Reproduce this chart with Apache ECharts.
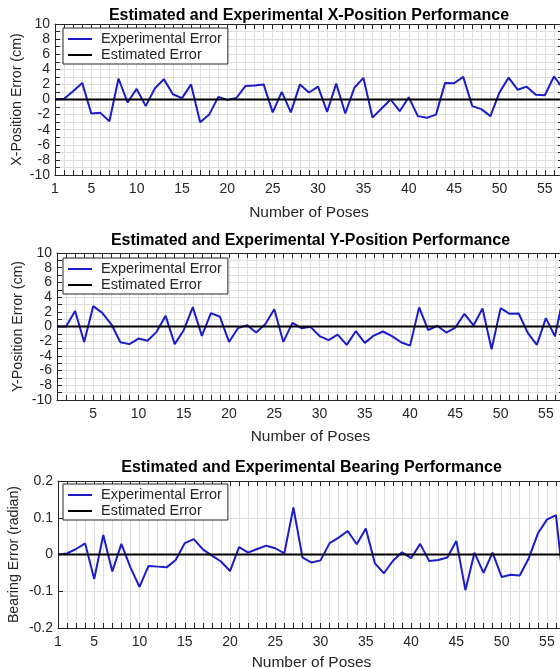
<!DOCTYPE html>
<html><head><meta charset="utf-8">
<script src="https://cdn.jsdelivr.net/npm/echarts@6/dist/echarts.min.js"></script>
<style>html,body{margin:0;padding:0;background:#fff}#c{width:560px;height:668px}</style>
</head><body><div id="c"></div>
<script>
// ---------- data ----------
const poses = [1,2,3,4,5,6,7,8,9,10,11,12,13,14,15,16,17,18,19,20,21,22,23,24,25,26,27,28,29,30,
  31,32,33,34,35,36,37,38,39,40,41,42,43,44,45,46,47,48,49,50,51,52,53,54,55,56,57];
const xPositionError = [0,0.1,1.1,2.2,-1.85,-1.77,-2.87,2.78,-0.4,1.4,-0.88,1.45,2.7,0.7,0.18,2.0,-3.0,-2.0,0.35,-0.05,
  0.2,1.8,1.85,2.0,-1.7,1.0,-1.7,2.0,0.93,1.7,-1.63,2.1,-1.85,1.55,2.87,-2.4,-1.2,0.0,-1.55,0.3,
  -2.2,-2.43,-2.0,2.2,2.15,3.0,-0.88,-1.28,-2.2,0.93,2.9,1.3,1.7,0.62,0.57,3.05,1.5];
const yPositionError = [0,0,2.1,-2.1,2.77,1.86,0.3,-2.14,-2.4,-1.64,-1.95,-0.73,1.45,-2.4,-0.5,2.64,-1.27,1.82,1.32,-2.1,
  -0.2,0.18,-0.82,0.32,2.36,-2.1,0.5,-0.23,-0.05,-1.3,-1.86,-1.1,-2.5,-0.64,-2.23,-1.23,-0.68,-1.32,-2.14,-2.6,
  2.6,-0.5,0.1,-0.82,-0.14,1.73,0.14,2.45,-3.1,2.5,1.73,1.77,-0.86,-2.5,1.14,-1.32,4.5];
const bearingError = [0,0.003,0.015,0.03,-0.067,0.053,-0.046,0.029,-0.035,-0.088,-0.031,-0.033,-0.035,-0.015,0.031,0.042,0.014,-0.003,-0.019,-0.045,
  0.02,0.005,0.015,0.024,0.017,0.003,0.128,-0.008,-0.022,-0.016,0.031,0.046,0.064,0.028,0.071,-0.024,-0.051,-0.017,0.006,-0.01,
  0.029,-0.018,-0.015,-0.008,0.037,-0.097,0.005,-0.05,0.005,-0.061,-0.055,-0.057,-0.01,0.057,0.095,0.107,-0.12];
const estimatedError = [0,0,0,0,0,0,0,0,0,0,0,0,0,0,0,0,0,0,0,0,0,0,0,0,0,0,0,0,0,0,
  0,0,0,0,0,0,0,0,0,0,0,0,0,0,0,0,0,0,0,0,0,0,0,0,0,0,0];

const titles = ['Estimated and Experimental X-Position Performance',
                'Estimated and Experimental Y-Position Performance',
                'Estimated and Experimental Bearing Performance'];
const yAxisNames = ['X-Position Error (cm)', 'Y-Position Error (cm)', 'Bearing Error (radian)'];
const xAxisName = 'Number of Poses';
const seriesNames = ['Experimental Error', 'Estimated Error'];
const xTickLabels = [
  [1,5,10,15,20,25,30,35,40,45,50,55],
  [5,10,15,20,25,30,35,40,45,50,55],
  [1,5,10,15,20,25,30,35,40,45,50,55]
];
const yTickLabels = [
  [-10,-8,-6,-4,-2,0,2,4,6,8,10],
  [-10,-8,-6,-4,-2,0,2,4,6,8,10],
  [-0.2,-0.1,0,0.1,0.2]
];
const xRange = [1, 57];
const yRanges = [[-10,10,1],[-10,10,1],[-0.2,0.2,0.1]];
const experimental = [xPositionError, yPositionError, bearingError];

// ---------- layout / style ----------
const FONT = 'Liberation Sans, Arial, Helvetica, sans-serif';
const AX = '#262626';
const GRIDC = '#dedede';
const layout = [
  {left:55, top:24,  width:508, height:151, titleX:309,   titleTop:7.5,   yGap:30.5, xGap:30, legTop:28},
  {left:57, top:253, width:507, height:147, titleX:310.5, titleTop:233,   yGap:32, xGap:29, legTop:258},
  {left:58, top:481, width:507, height:147, titleX:311.5, titleTop:460,   yGap:36.5, xGap:26.5, legTop:484}
];

function inList(list, v){ return list.some(t => Math.abs(t - v) < 1e-6); }
function fmt(v){ return String(Math.round(v*1000)/1000); }

const grids = [], xAxes = [], yAxes = [], series = [], legends = [], titleList = [];
layout.forEach((L, i) => {
  grids.push({left:L.left, top:L.top, width:L.width, height:L.height, show:false,
    containLabel:false, outerBoundsMode:'none'});
  const tick = {show:true, inside:true, length:5, lineStyle:{color:AX, width:1}};
  const line = {show:true, onZero:false, lineStyle:{color:AX, width:1}};
  xAxes.push({
    type:'value', gridIndex:i, position:'bottom', min:xRange[0], max:xRange[1], interval:1,
    axisLine:line, axisTick:tick,
    axisLabel:{show:true, margin:7, showMinLabel:true, showMaxLabel:true, fontSize:14, color:AX, fontFamily:FONT,
      formatter:(v)=> inList(xTickLabels[i], v) ? fmt(v) : ''},
    splitLine:{show:true, lineStyle:{color:GRIDC, width:1}},
    name:xAxisName, nameLocation:'middle', nameGap:L.xGap, nameMoveOverlap:false,
    nameTextStyle:{fontSize:15.5, color:AX, fontFamily:FONT}
  });
  xAxes.push({
    type:'value', gridIndex:i, position:'top', min:xRange[0], max:xRange[1], interval:1,
    axisLine:line, axisTick:tick, axisLabel:{show:false}, splitLine:{show:false}
  });
  const yr = yRanges[i];
  yAxes.push({
    type:'value', gridIndex:i, position:'left', min:yr[0], max:yr[1], interval:yr[2],
    axisLine:line, axisTick:tick,
    axisLabel:{show:true, margin:5, showMinLabel:true, showMaxLabel:true, fontSize:14, color:AX, fontFamily:FONT,
      formatter:(v)=> inList(yTickLabels[i], v) ? fmt(v) : ''},
    splitLine:{show:true, lineStyle:{color:GRIDC, width:1}},
    name:yAxisNames[i], nameLocation:'middle', nameGap:L.yGap, nameMoveOverlap:false,
    nameTextStyle:{fontSize:14.2, color:AX, fontFamily:FONT}
  });
  yAxes.push({
    type:'value', gridIndex:i, position:'right', min:yr[0], max:yr[1], interval:yr[2],
    axisLine:line, axisTick:tick, axisLabel:{show:false}, splitLine:{show:false}
  });
  series.push({
    name:seriesNames[0], type:'line', xAxisIndex:2*i, yAxisIndex:2*i,
    data: poses.map((p, k) => [p, experimental[i][k]]),
    showSymbol:false, symbol:'none', lineStyle:{color:'#1c1cc8', width:2}, itemStyle:{color:'#1c1cc8'},
    z:3
  });
  series.push({
    name:seriesNames[1], type:'line', xAxisIndex:2*i, yAxisIndex:2*i,
    data: poses.map((p, k) => [p, estimatedError[k]]),
    showSymbol:false, symbol:'none', lineStyle:{color:'#000', width:2}, itemStyle:{color:'#000'},
    z:4
  });
  legends.push({
    data:seriesNames, orient:'vertical', left:63, top:L.legTop,
    icon:'rect', itemWidth:24, itemHeight:2, itemGap:0,
    padding:[3,6,1,5], backgroundColor:'#fff', borderColor:AX, borderWidth:1, borderRadius:0,
    selectedMode:false,
    textStyle:{fontSize:14.5, color:AX, fontFamily:FONT, lineHeight:16, padding:[0,0,0,4]}
  });
  titleList.push({
    text:titles[i], left:L.titleX, top:L.titleTop, textAlign:'center', padding:0,
    textStyle:{fontSize:16, fontWeight:'bold', color:'#000', fontFamily:FONT}
  });
});

const chart = echarts.init(document.getElementById('c'), null, {renderer:'canvas'});
chart.setOption({
  animation:false, backgroundColor:'#fff',
  title:titleList, legend:legends, grid:grids, xAxis:xAxes, yAxis:yAxes, series:series
});
</script></body></html>
